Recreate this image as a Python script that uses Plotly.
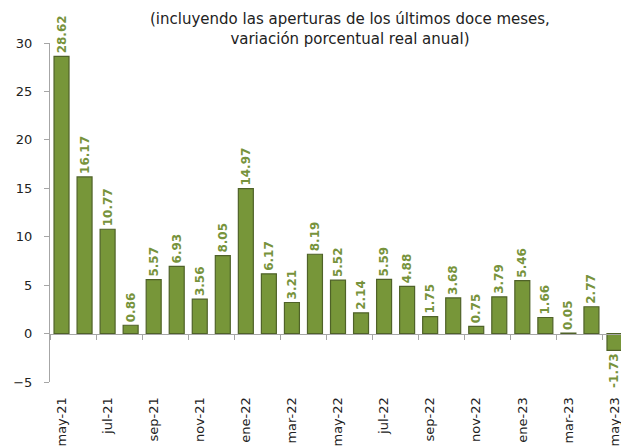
import plotly.graph_objects as go

categories = ["may-21","jun-21","jul-21","ago-21","sep-21","oct-21","nov-21","dic-21",
              "ene-22","feb-22","mar-22","abr-22","may-22","jun-22","jul-22","ago-22",
              "sep-22","oct-22","nov-22","dic-22","ene-23","feb-23","mar-23","abr-23","may-23"]
values = [28.62,16.17,10.77,0.86,5.57,6.93,3.56,8.05,14.97,6.17,3.21,8.19,5.52,2.14,
          5.59,4.88,1.75,3.68,0.75,3.79,5.46,1.66,0.05,2.77,-1.73]
labels = [f"{v:.2f}" for v in values]
shown_ticks = categories[::2]
title_text = "(incluyendo las aperturas de los últimos doce meses,<br>variación porcentual real anual)"

FONT = "'DejaVu Sans', sans-serif"
GREEN = "#779639"
XRANGE = [-0.5, len(categories) - 0.5]

fig = go.Figure()
fig.add_trace(go.Bar(
    x=categories, y=values, text=labels, textposition="outside", textangle=-90,
    constraintext="none",
    textfont=dict(family=FONT, size=12, color="#77933C", weight="bold"),
    marker=dict(color=GREEN, line=dict(color="#4F6228", width=1.2)),
    cliponaxis=False, hoverinfo="skip",
))
# invisible trace on secondary x axis for tick marks at zero line
fig.add_trace(go.Scatter(x=categories, y=[0]*len(categories), xaxis="x2",
                         mode="markers", marker=dict(opacity=0), hoverinfo="skip",
                         showlegend=False))

fig.add_annotation(text=title_text, xref="paper", yref="paper", x=0.521, y=1.041,
                   xanchor="center", yanchor="middle", showarrow=False,
                   font=dict(family=FONT, size=15, color="#222222"))

fig.update_layout(
    width=621, height=439,
    margin=dict(l=42, r=3, t=35, b=65, autoexpand=False),
    paper_bgcolor="white", plot_bgcolor="white",
    showlegend=False, bargap=0.35,
    font=dict(family=FONT, color="#222222"),
    xaxis=dict(type="category", range=XRANGE, tickmode="array", tickvals=shown_ticks, ticktext=shown_ticks,
               tickangle=-90, ticks="outside", ticklen=9, tickcolor="rgba(0,0,0,0)",
               showline=False, showgrid=False, automargin=False,
               tickfont=dict(family=FONT, size=13, color="#222222")),
    xaxis2=dict(type="category", overlaying="x", anchor="free", position=5/35,
                range=XRANGE, showticklabels=False, showline=True, linecolor="#A6A6A6",
                linewidth=1, ticks="outside", ticklen=5, tickcolor="#A6A6A6",
                tickson="boundaries", dtick=2, showgrid=False, automargin=False),
    yaxis=dict(range=[-5, 30], dtick=5, showline=True, linecolor="#A6A6A6", linewidth=1,
               ticks="outside", ticklen=5, tickcolor="#A6A6A6", showgrid=False,
               zeroline=False, automargin=False, ticklabelstandoff=9,
               tickfont=dict(family=FONT, size=13, color="#222222")),
)

fig.write_html("out.html")
